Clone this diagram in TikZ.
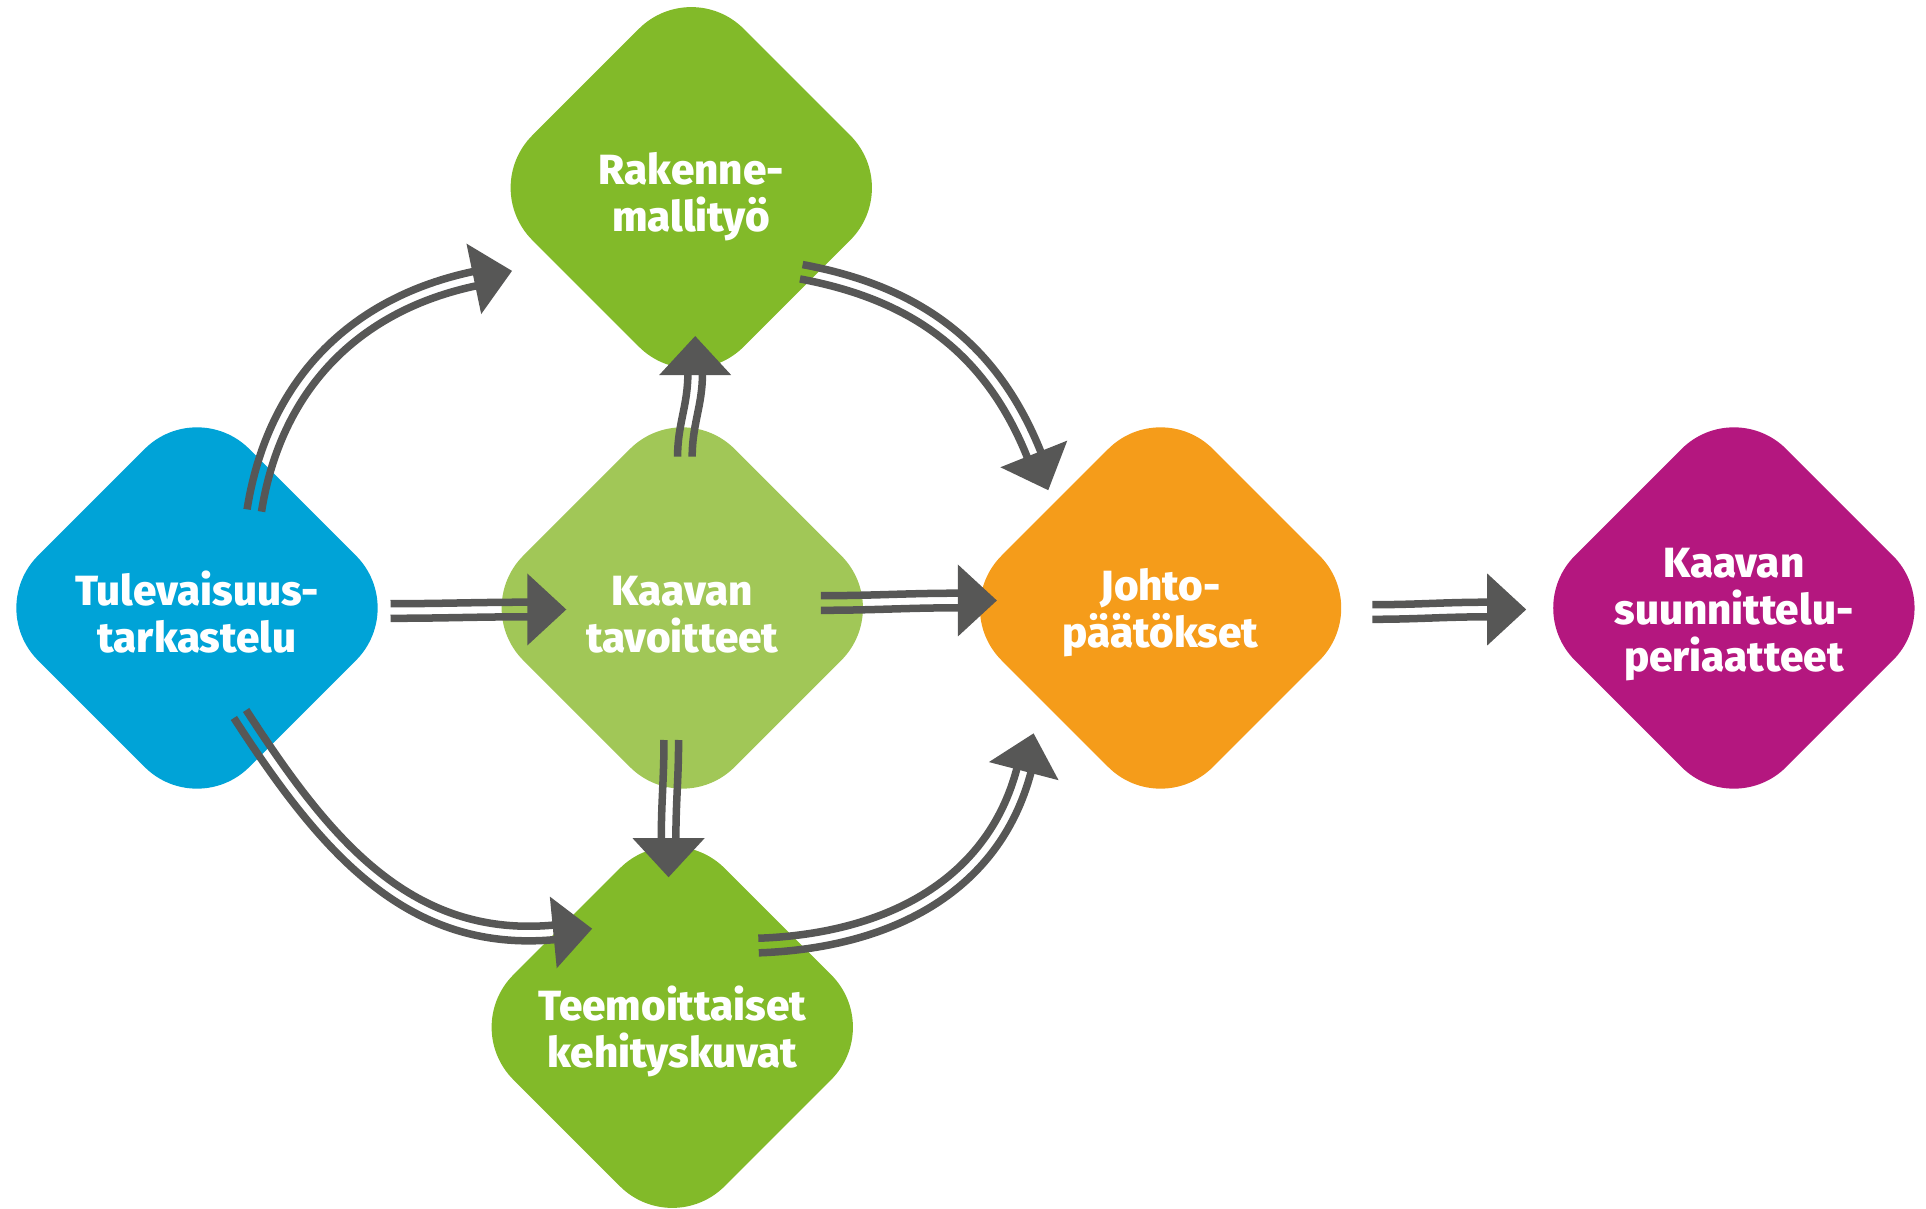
\documentclass[tikz,border=0pt]{standalone}
\usepackage{fontspec}
\setmainfont{Fira Sans}[BoldFont={Fira Sans ExtraBold}]
\usetikzlibrary{positioning,shapes.geometric,calc}

\definecolor{tulblue}{RGB}{0,163,215}
\definecolor{tavgreen}{RGB}{161,199,87}
\definecolor{rakgreen}{RGB}{130,186,41}
\definecolor{johorange}{RGB}{245,156,26}
\definecolor{perpurple}{RGB}{180,23,127}
\definecolor{arrgray}{RGB}{87,87,86}

\newcommand{\diastrut}{\rule{0pt}{12pt}}

% double arrow: from node, offset, out, in, to node, offset
\newcommand{\dblarrow}[6]{%
  \coordinate (s) at ($(#1)+(#2)$);
  \coordinate (e) at ($(#5)+(#6)$);
  \draw[dline] ($(s)+(#3+90:7.3)$) to[out=#3,in=#4] ($(e)+(#4-90:7.3)$);
  \draw[dline] ($(s)+(#3-90:7.3)$) to[out=#3,in=#4] ($(e)+(#4+90:7.3)$);
  \fill[arrhead] ($(e)+(#4+180:37)$) -- ($(e)+(#4:2)+(#4+90:36)$) -- ($(e)+(#4:2)+(#4-90:36)$) -- cycle;
}

\begin{document}
\begin{tikzpicture}[x=0.01cm, y=0.01cm, node distance=4.85cm,
    main/.style = {diamond, minimum width=4.23cm, minimum height=4.23cm, inner sep=0pt,
      rounded corners=0.74cm, text=white, align=center,
      font=\fontsize{12}{13.4}\selectfont\bfseries},
    dline/.style = {draw=arrgray, line width=0.075cm},
    arrhead/.style = {fill=arrgray}]
    \useasboundingbox (0,0) rectangle (1926,1208);
            \node[main, fill=tulblue] (1) at (197,600) {\diastrut Tulevaisuus-\\tarkastelu};
            \node[main, fill=tavgreen] (2) [right of=1] {\diastrut Kaavan\\tavoitteet};
            \node[main, fill=rakgreen, node distance=4.2cm] (3) [above of=2, xshift=0.09cm] {\rule{0pt}{14pt}Rakenne-\\mallityö};
            \node[main, fill=rakgreen, node distance=4.19cm] (4) [below of=2, xshift=-0.1cm] {\diastrut Teemoittaiset\\kehityskuvat};
            \node[main, fill=johorange, node distance=4.78cm] (5) [right of=2] {\diastrut Johto-\\päätökset};
            \node[main, fill=perpurple, node distance=5.73cm] (6) [right of=5] {\diastrut Kaavan\\suunnittelu-\\periaatteet};
            \dblarrow{1}{57.3,97.5}{81}{191.8}{3}{-215.5,-90.7}
            \dblarrow{2}{2.6,151.3}{90}{-90}{3}{3.9,-185.3}
            \dblarrow{3}{110,-84}{-10.5}{111.7}{5}{-126,152.2}
            \dblarrow{1}{193.5,-3}{0}{180}{2}{-153,-1.5}
            \dblarrow{2}{138.7,5}{0}{180}{5}{-200.7,7.5}
            \dblarrow{5}{211.7,-4}{0}{180}{6}{-244.7,-1.5}
            \dblarrow{1}{43,-106}{-57}{185.5}{4}{-117,95}
            \dblarrow{2}{-11,-132}{-90}{90}{4}{-3.7,187}
            \dblarrow{4}{86.3,81.7}{2}{255.4}{5}{-136.3,-161.2}
        \end{tikzpicture}
\end{document}
